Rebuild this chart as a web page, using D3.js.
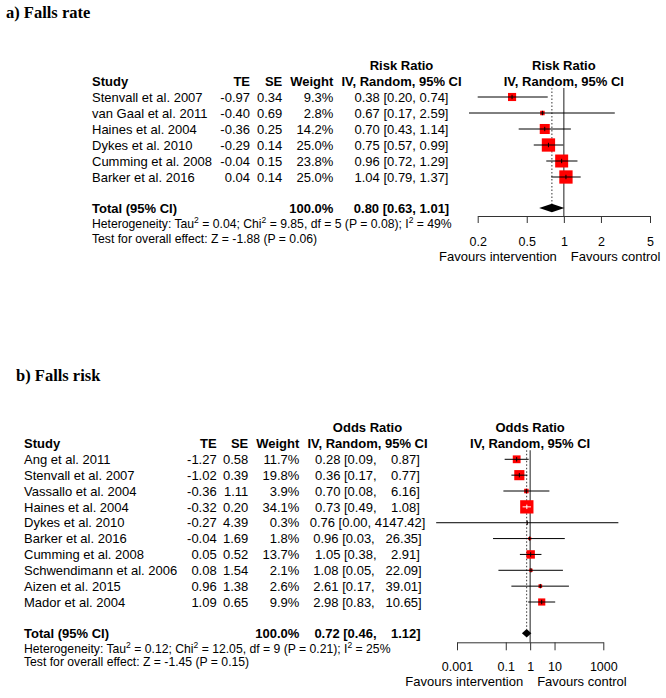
<!DOCTYPE html>
<html><head><meta charset="utf-8">
<script src="https://cdn.jsdelivr.net/npm/d3@7"></script>
<style>body{margin:0;background:#fff} text{white-space:pre}</style>
</head><body><svg id="c" width="666" height="698"></svg>
<script>
// ---------- Panel a: Falls rate ----------
const studiesA = ["Stenvall et al. 2007","van Gaal et al. 2011","Haines et al. 2004","Dykes et al. 2010","Cumming et al. 2008","Barker et al. 2016"];
const teA = [-0.97,-0.40,-0.36,-0.29,-0.04,0.04];
const seA = [0.34,0.69,0.25,0.14,0.15,0.14];
const weightA = [9.3,2.8,14.2,25.0,23.8,25.0];
const estA = [0.38,0.67,0.70,0.75,0.96,1.04];
const lowerA = [0.20,0.17,0.43,0.57,0.72,0.79];
const upperA = [0.74,2.59,1.14,0.99,1.29,1.37];
const totalA = [0.80,0.63,1.01];
const hetA = ["0.04","9.85","5","0.08","49"];
const testA = ["-1.88","0.06"];
const ticksA = [0.2,0.5,1,2,5];

// ---------- Panel b: Falls risk ----------
const studiesB = ["Ang et al. 2011","Stenvall et al. 2007","Vassallo et al. 2004","Haines et al. 2004","Dykes et al. 2010","Barker et al. 2016","Cumming et al. 2008","Schwendimann et al. 2006","Aizen et al. 2015","Mador et al. 2004"];
const teB = [-1.27,-1.02,-0.36,-0.32,-0.27,-0.04,0.05,0.08,0.96,1.09];
const seB = [0.58,0.39,1.11,0.20,4.39,1.69,0.52,1.54,1.38,0.65];
const weightB = [11.7,19.8,3.9,34.1,0.3,1.8,13.7,2.1,2.6,9.9];
const estB = [0.28,0.36,0.70,0.73,0.76,0.96,1.05,1.08,2.61,2.98];
const lowerB = [0.09,0.17,0.08,0.49,0.00014,0.03,0.38,0.05,0.17,0.83];
const upperB = [0.87,0.77,6.16,1.08,4147.42,26.35,2.91,22.09,39.01,10.65];
const totalB = [0.72,0.46,1.12];
const hetB = ["0.12","12.05","9","0.21","25"];
const testB = ["-1.45","0.15"];
const ticksB = [0.001,0.1,1,10,1000];

const FS = 13, FSS = 12.2, FST = 12.5;
const sans = "'Liberation Sans', Arial, Helvetica, sans-serif";
const serif = "'Liberation Serif', 'Times New Roman', serif";
const svg = d3.select("#c");
svg.append("rect").attr("width",666).attr("height",698).attr("fill","#fff");

function put(g, x, y, s, anchor, bold, size, fam) {
  return g.append("text").attr("x",x).attr("y",y).attr("dy","0.36em")
    .attr("text-anchor",anchor||"start").attr("font-family",fam||sans)
    .attr("font-size",size||FS).attr("font-weight",bold?"bold":"normal")
    .attr("xml:space","preserve").text(s);
}
function putSup(g, x, y, parts, size) {
  const t = g.append("text").attr("x",x).attr("y",y).attr("dy","0.36em")
    .attr("font-family",sans).attr("font-size",size).attr("xml:space","preserve");
  let up = false;
  parts.forEach(p => {
    const sup = p[1];
    const ts = t.append("tspan").text(p[0]);
    if (sup) { ts.attr("font-size", size*0.7).attr("dy", -size*0.4); up = true; }
    else if (up) { ts.attr("dy", size*0.4); up = false; }
  });
  return t;
}
const f2 = v => v.toFixed(2);

function panel(cfg) {
  const g = svg.append("g");
  const n = cfg.studies.length;
  put(g, cfg.titleX, cfg.titleY, cfg.title, "start", true, 16.5, serif);

  const y = d3.scaleLinear().domain([0, n-1]).range([cfg.row0, cfg.rowN]);
  const x = d3.scaleLog().domain([cfg.ticks[0], cfg.ticks[cfg.ticks.length-1]]).range(cfg.range);
  const size = d3.scaleSqrt().domain([0, d3.max(cfg.weight)]).range([0, 13.3]);

  // headers
  put(g, cfg.ciC, cfg.hdr1Y, cfg.measure, "middle", true);
  put(g, cfg.studyX, cfg.hdrY, "Study", "start", true);
  put(g, cfg.teR, cfg.hdrY, "TE", "end", true);
  put(g, cfg.seR, cfg.hdrY, "SE", "end", true);
  put(g, cfg.wR, cfg.hdrY, "Weight", "end", true);
  put(g, cfg.ciC, cfg.hdrY, "IV, Random, 95% CI", "middle", true);
  const pc = (cfg.range[0]+cfg.range[1])/2;
  put(g, pc, cfg.hdr1Y, cfg.measure, "middle", true);
  put(g, pc, cfg.hdrY, "IV, Random, 95% CI", "middle", true);

  const upStr = cfg.upper.map(f2).concat([f2(cfg.total[2])]);
  const L = d3.max(upStr, s => s.length);
  const ciStr = (e, lo, up) => f2(e) + " [" + f2(lo) + ", " + f2(up).padStart(L, " ") + "]";

  // rows
  for (let i = 0; i < n; i++) {
    const yy = y(i);
    put(g, cfg.studyX, yy, cfg.studies[i]);
    put(g, cfg.teR, yy, f2(cfg.te[i]), "end");
    put(g, cfg.seR, yy, f2(cfg.se[i]), "end");
    put(g, cfg.wR, yy, cfg.weight[i].toFixed(1) + "%", "end");
    put(g, cfg.ciC, yy, ciStr(cfg.est[i], cfg.lower[i], cfg.upper[i]), "middle");
  }
  // total
  put(g, cfg.studyX, cfg.totalY, "Total (95% CI)", "start", true);
  put(g, cfg.wR, cfg.totalY, "100.0%", "end", true);
  put(g, cfg.ciC, cfg.totalY, ciStr(cfg.total[0], cfg.total[1], cfg.total[2]), "middle", true);
  const h = cfg.het;
  putSup(g, cfg.studyX, cfg.hetY, [["Heterogeneity: Tau"],["2",1],[" = "+h[0]+"; Chi"],["2",1],
    [" = "+h[1]+", df = "+h[2]+" (P = "+h[3]+"); I"],["2",1],[" = "+h[4]+"%"]], FSS);
  put(g, cfg.studyX, cfg.testY, "Test for overall effect: Z = "+cfg.test[0]+" (P = "+cfg.test[1]+")", "start", false, FSS);

  // reference lines
  const top = cfg.row0 - 9;
  g.append("line").attr("x1",x(1)).attr("x2",x(1)).attr("y1",top).attr("y2",cfg.axisY)
    .attr("stroke","#333").attr("stroke-width",1.1);
  g.append("line").attr("x1",x(cfg.total[0])).attr("x2",x(cfg.total[0])).attr("y1",top).attr("y2",cfg.totalY-4)
    .attr("stroke","#333").attr("stroke-width",1).attr("stroke-dasharray","1.5,2");

  // studies
  for (let i = 0; i < n; i++) {
    const yy = y(i), cx = x(cfg.est[i]), s = size(cfg.weight[i]);
    const x0 = x(cfg.lower[i]), x1 = x(cfg.upper[i]);
    const inside = x0 >= cx - s/2 && x1 <= cx + s/2;
    g.append("rect").attr("x",cx - s/2).attr("y",yy - s/2).attr("width",s).attr("height",s).attr("fill","#ff0000");
    const col = inside ? "#fff" : "#000";
    g.append("line").attr("x1",x0).attr("x2",x1).attr("y1",yy).attr("y2",yy).attr("stroke",col).attr("stroke-width",1);
    g.append("line").attr("x1",cx).attr("x2",cx).attr("y1",yy-2.2).attr("y2",yy+2.2).attr("stroke",col).attr("stroke-width",1);
  }
  // diamond
  const dx0 = x(cfg.total[1]), dx1 = x(cfg.total[2]), dc = x(cfg.total[0]), ty = cfg.totalY;
  g.append("path").attr("d", d3.line()([[dx0,ty],[dc,ty-4.2],[dx1,ty],[dc,ty+4.2]]) + "Z").attr("fill","#000");

  // axis
  const ax = g.append("g").attr("transform","translate(0,"+cfg.axisY+")")
    .call(d3.axisBottom(x).tickValues(cfg.ticks).tickFormat(d => String(d))
      .tickSize(cfg.tickLen).tickSizeOuter(0).tickPadding(cfg.tickPad));
  ax.selectAll("path,line").attr("stroke","#333");
  ax.selectAll("text").attr("font-family",sans).attr("font-size",FST).attr("fill","#000");

  put(g, x(1) - 7, cfg.favY, "Favours intervention", "end");
  put(g, x(1) + 7, cfg.favY, "Favours control", "start");
}

panel({
  title:"a) Falls rate", titleX:6, titleY:12.5, measure:"Risk Ratio",
  studies:studiesA, te:teA, se:seA, weight:weightA, est:estA, lower:lowerA, upper:upperA,
  total:totalA, het:hetA, test:testA, ticks:ticksA,
  studyX:92, teR:250, seR:282.3, wR:333.3, ciC:401.5,
  hdr1Y:65, hdrY:81, row0:97, rowN:177, totalY:208, hetY:223.5, testY:238.5,
  axisY:216, range:[477.7,650], tickLen:7, tickPad:14.5, favY:256.5
});
panel({
  title:"b) Falls risk", titleX:16, titleY:375, measure:"Odds Ratio",
  studies:studiesB, te:teB, se:seB, weight:weightB, est:estB, lower:lowerB, upper:upperB,
  total:totalB, het:hetB, test:testB, ticks:ticksB,
  studyX:24, teR:216.7, seR:248.3, wR:299.3, ciC:367.5,
  hdr1Y:427.5, hdrY:443.3, row0:459.3, rowN:602, totalY:633.3, hetY:648.3, testY:662,
  axisY:642.3, range:[457,603.3], tickLen:8, tickPad:11.5, favY:681
});
</script></body></html>
